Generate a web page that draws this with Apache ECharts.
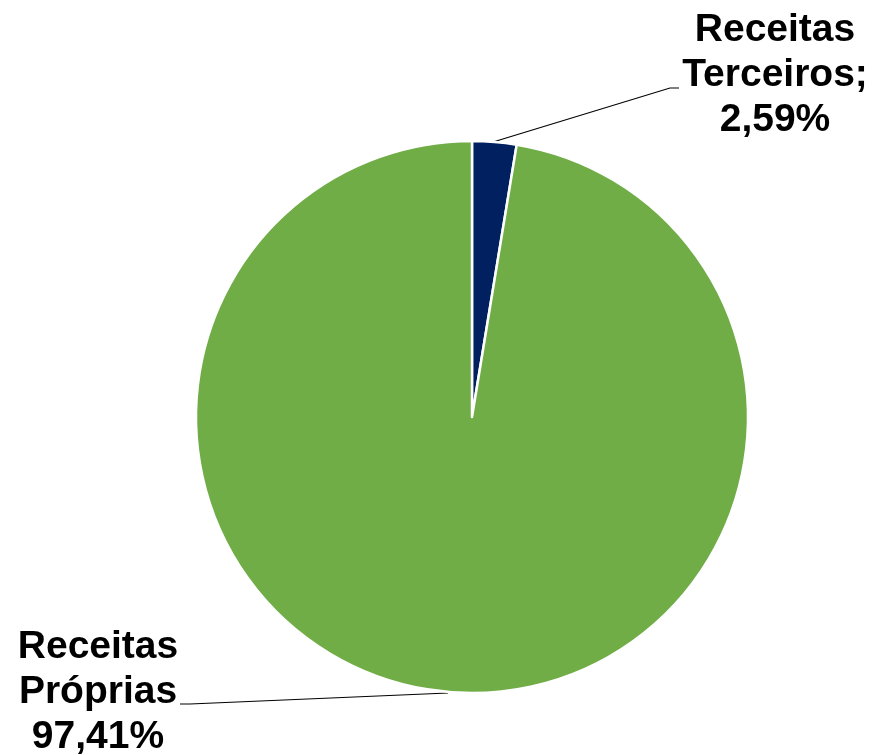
<!DOCTYPE html>
<html><head><meta charset="utf-8">
<script src="https://cdn.jsdelivr.net/npm/echarts@6/dist/echarts.min.js"></script>
<style>html,body{margin:0;padding:0;background:#fff}#c{width:878px;height:755px}</style>
</head><body><div id="c"></div>
<script>
const categories = ['Receitas Terceiros', 'Receitas Próprias'];
const values = [2.59, 97.41];
const labelNames = ['Receitas\nTerceiros;', 'Receitas\nPróprias'];
const colors = ['#002060', '#70AD47'];

const chart = echarts.init(document.getElementById('c'));
chart.setOption({
  animation: false,
  series: [{
    type: 'pie',
    center: [472, 417],
    radius: 276,
    startAngle: 90,
    clockwise: true,
    data: categories.map((n, i) => ({ name: n, value: values[i], itemStyle: { color: colors[i] } })),
    itemStyle: { borderColor: '#fff', borderWidth: 2.5 },
    label: {
      show: true,
      formatter: p => labelNames[p.dataIndex] + '\n' + values[p.dataIndex].toFixed(2).replace('.', ',') + '%',
      fontFamily: 'Liberation Sans, Arial, sans-serif',
      fontWeight: 'bold',
      fontSize: 39,
      lineHeight: 45,
      color: '#000',
      align: 'center'
    },
    labelLine: { show: true, lineStyle: { color: '#000', width: 1.2 } },
    labelLayout: p => p.dataIndex === 0
      ? { x: 775, y: 75, align: 'center', verticalAlign: 'middle',
          labelLinePoints: [[493, 142], [670, 88], [679, 88]] }
      : { x: 98, y: 692, align: 'center', verticalAlign: 'middle',
          labelLinePoints: [[448, 693], [190, 704], [180, 704]] }
  }]
});
</script></body></html>
